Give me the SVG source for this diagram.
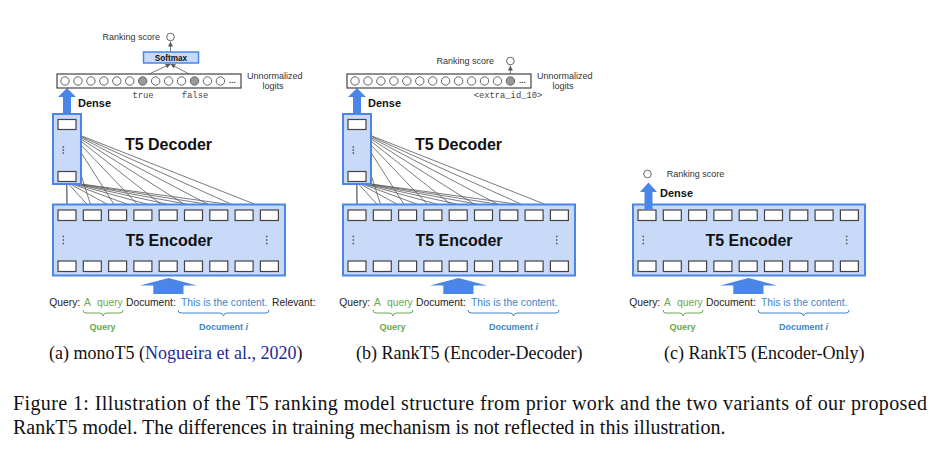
<svg xmlns="http://www.w3.org/2000/svg" xmlns:xlink="http://www.w3.org/1999/xlink" width="950" height="465" viewBox="0 0 950 465">
<style>
.enc{fill:#c9daf8;stroke:#4a86e8;stroke-width:2}
.box{fill:#fff;stroke:#434343;stroke-width:1.2}
.lc{fill:#fff;stroke:#666;stroke-width:1}
.lg{fill:#999;stroke:#666;stroke-width:1}
.ln{stroke:#595959;stroke-width:0.8;fill:none}
.arr{fill:#4a86e8}
.dot{fill:#666}
.sans{font-family:"Liberation Sans",Arial,sans-serif}
.title{font-family:"Liberation Sans",Arial,sans-serif;font-weight:bold;font-size:16px;fill:#111;text-anchor:middle}
.dense{font-family:"Liberation Sans",Arial,sans-serif;font-weight:bold;font-size:11px;fill:#111}
.small{font-family:"Liberation Sans",Arial,sans-serif;font-size:9px;fill:#333}
.mono{font-family:"Liberation Mono","Courier New",monospace;font-size:8.8px;fill:#444}
.inp{font-family:"Liberation Sans",Arial,sans-serif;font-size:10.3px;fill:#222}
.grn{fill:#6aa84f}
.blu{fill:#3d85c6}
.lbl{font-family:"Liberation Sans",Arial,sans-serif;font-size:9px;font-weight:bold;text-anchor:middle}
.brg{fill:none;stroke:#6aa84f;stroke-width:1}
.brb{fill:none;stroke:#3d85c6;stroke-width:1}
.cap{font-family:"Liberation Serif","Times New Roman",serif;fill:#111}
.cite{fill:#1c2a9a}
</style>
<defs>
<marker id="ah" viewBox="0 0 6 6" refX="6" refY="3" markerWidth="5" markerHeight="5" markerUnits="userSpaceOnUse" orient="auto"><path d="M0,0 L6,3 L0,6 z" fill="#595959"/></marker>
<g id="encBody">
<rect class="enc" x="53" y="204.5" width="232" height="71"/>
<rect class="box" x="58" y="210" width="18" height="10.5"/>
<rect class="box" x="83.3" y="210" width="18" height="10.5"/>
<rect class="box" x="108.6" y="210" width="18" height="10.5"/>
<rect class="box" x="133.9" y="210" width="18" height="10.5"/>
<rect class="box" x="159.2" y="210" width="18" height="10.5"/>
<rect class="box" x="184.5" y="210" width="18" height="10.5"/>
<rect class="box" x="209.8" y="210" width="18" height="10.5"/>
<rect class="box" x="235.1" y="210" width="18" height="10.5"/>
<rect class="box" x="260.4" y="210" width="18" height="10.5"/>
<rect class="box" x="58" y="261" width="18" height="10.5"/>
<rect class="box" x="83.3" y="261" width="18" height="10.5"/>
<rect class="box" x="108.6" y="261" width="18" height="10.5"/>
<rect class="box" x="133.9" y="261" width="18" height="10.5"/>
<rect class="box" x="159.2" y="261" width="18" height="10.5"/>
<rect class="box" x="184.5" y="261" width="18" height="10.5"/>
<rect class="box" x="209.8" y="261" width="18" height="10.5"/>
<rect class="box" x="235.1" y="261" width="18" height="10.5"/>
<rect class="box" x="260.4" y="261" width="18" height="10.5"/>
<circle class="dot" cx="63.3" cy="236.5" r="0.9"/><circle class="dot" cx="63.3" cy="240" r="0.9"/><circle class="dot" cx="63.3" cy="243.5" r="0.9"/>
<circle class="dot" cx="266.7" cy="236.5" r="0.9"/><circle class="dot" cx="266.7" cy="240" r="0.9"/><circle class="dot" cx="266.7" cy="243.5" r="0.9"/>
<polygon class="arr" points="168.5,278 140,285.5 153.3,285.5 153.3,294 183.5,294 183.5,285.5 197,285.5"/>
</g>
<g id="decBody">
<rect class="enc" x="53" y="114" width="28" height="70"/>
<rect class="box" x="58" y="119.5" width="18" height="10"/>
<rect class="box" x="58" y="171.5" width="18" height="10"/>
<circle class="dot" cx="63.3" cy="147" r="0.9"/><circle class="dot" cx="63.3" cy="150" r="0.9"/><circle class="dot" cx="63.3" cy="153" r="0.9"/>
<polygon class="arr" points="67,88 58,97 63,97 63,114 71,114 71,97 76,97"/>
</g>
<g id="fan">
<path class="ln" d="M66.7,130 L67,210 M66.7,130 L92.3,210 M66.7,130 L117.6,210 M66.7,130 L142.9,210 M66.7,130 L168.2,210 M66.7,130 L193.5,210 M66.7,130 L218.8,210 M66.7,130 L244.1,210 M66.7,130 L269.4,210 M66.7,182 L67,210 M66.7,182 L92.3,210 M66.7,182 L117.6,210 M66.7,182 L142.9,210 M66.7,182 L168.2,210 M66.7,182 L193.5,210 M66.7,182 L218.8,210 M66.7,182 L244.1,210 M66.7,182 L269.4,210"/>
</g>
<g id="logitBar">
<rect class="box" x="57" y="74" width="184" height="14"/>
<circle class="lc" cx="65" cy="81" r="4.2"/><circle class="lc" cx="77.95" cy="81" r="4.2"/><circle class="lc" cx="90.9" cy="81" r="4.2"/><circle class="lc" cx="103.85" cy="81" r="4.2"/><circle class="lc" cx="116.8" cy="81" r="4.2"/><circle class="lc" cx="129.75" cy="81" r="4.2"/>
<circle class="lc" cx="155.65" cy="81" r="4.2"/><circle class="lc" cx="168.6" cy="81" r="4.2"/><circle class="lc" cx="181.55" cy="81" r="4.2"/>
<circle class="lc" cx="207.45" cy="81" r="4.2"/>
<text class="small" x="229" y="83" style="font-weight:bold;font-size:8px">...</text>
<text class="small" x="247" y="79">Unnormalized</text>
<text class="small" x="273" y="89" text-anchor="middle">logits</text>
</g>
</defs>

<!-- Panel (a) -->
<g id="connectors-a"><use xlink:href="#fan"/>
<path class="ln" d="M142.7,77 L170.5,64" marker-end="url(#ah)"/>
<path class="ln" d="M194.5,77 L170.5,64" marker-end="url(#ah)"/>
<path class="ln" d="M170.5,52 L170.5,41.5" marker-end="url(#ah)"/>
</g>
<g id="a-encoder"><use xlink:href="#encBody"/><text class="title" x="169" y="246">T5 Encoder</text></g>
<g id="a-decoder"><use xlink:href="#decBody"/><text class="title" x="168.5" y="149.5">T5 Decoder</text><text class="dense" x="78" y="107">Dense</text></g>
<g id="a-logits"><use xlink:href="#logitBar"/>
<circle class="lg" cx="142.7" cy="81" r="4.2"/><circle class="lc" cx="220.4" cy="81" r="4.2"/><circle class="lg" cx="194.5" cy="81" r="4.2"/>
<text class="mono" x="143" y="97.5" text-anchor="middle">true</text>
<text class="mono" x="195" y="97.5" text-anchor="middle">false</text>
</g>
<g id="a-softmax"><rect x="143.5" y="52" width="55" height="11" fill="#c9daf8" stroke="#4a86e8" stroke-width="1.5"/>
<text class="sans" x="171" y="60.6" font-size="8.2" font-weight="bold" text-anchor="middle" fill="#111">Softmax</text></g>
<g id="a-score"><circle class="lc" cx="170.5" cy="37" r="3.8"/><text class="small" x="160" y="40.3" text-anchor="end">Ranking score</text></g>
<g id="a-input">
<text class="inp" y="305.5"><tspan x="49.3">Query:</tspan><tspan class="grn" x="84">A</tspan><tspan class="grn" x="97">query</tspan><tspan x="126">Document:</tspan><tspan class="blu" x="181">This is the content.</tspan><tspan x="272">Relevant:</tspan></text>
<path class="brg" d="M83,310 q0,3 3,3 h13.5 q3,0 3.5,3 q0.5,-3 3.5,-3 h13.5 q3,0 3,-3"/>
<path class="brb" d="M178,310 q0,3 3,3 h39 q3,0 3.5,3 q0.5,-3 3.5,-3 h39 q3,0 3,-3"/>
<text class="lbl grn" x="102.5" y="329.5">Query</text>
<text class="lbl blu" x="223.5" y="329.5">Document <tspan font-style="italic">i</tspan></text>
</g>

<!-- Panel (b) -->
<g transform="translate(290,0)">
<g id="connectors-b"><use xlink:href="#fan"/>
<path class="ln" d="M220.4,76.8 L220.4,65.5" marker-end="url(#ah)"/>
</g>
<g id="b-encoder"><use xlink:href="#encBody"/><text class="title" x="169" y="246">T5 Encoder</text></g>
<g id="b-decoder"><use xlink:href="#decBody"/><text class="title" x="168.5" y="149.5">T5 Decoder</text><text class="dense" x="78" y="107">Dense</text></g>
<g id="b-logits"><use xlink:href="#logitBar"/>
<circle class="lc" cx="142.7" cy="81" r="4.2"/><circle class="lc" cx="194.5" cy="81" r="4.2"/><circle class="lg" cx="220.4" cy="81" r="4.2"/>
<text class="mono" x="218" y="98" text-anchor="middle">&lt;extra_id_10&gt;</text>
</g>
<g id="b-score"><circle class="lc" cx="220.4" cy="61" r="3.8"/><text class="small" x="204" y="64" text-anchor="end">Ranking score</text></g>
<g id="b-input">
<text class="inp" y="305.5"><tspan x="49.3">Query:</tspan><tspan class="grn" x="84">A</tspan><tspan class="grn" x="97">query</tspan><tspan x="126">Document:</tspan><tspan class="blu" x="181">This is the content.</tspan></text>
<path class="brg" d="M83,310 q0,3 3,3 h13.5 q3,0 3.5,3 q0.5,-3 3.5,-3 h13.5 q3,0 3,-3"/>
<path class="brb" d="M178,310 q0,3 3,3 h39 q3,0 3.5,3 q0.5,-3 3.5,-3 h39 q3,0 3,-3"/>
<text class="lbl grn" x="102.5" y="329.5">Query</text>
<text class="lbl blu" x="223.5" y="329.5">Document <tspan font-style="italic">i</tspan></text>
</g>
</g>

<!-- Panel (c) -->
<g transform="translate(580,0)">
<g id="c-encoder"><use xlink:href="#encBody"/><text class="title" x="169" y="246">T5 Encoder</text></g>
<g id="c-dense"><polygon class="arr" points="68.5,182.5 60,192 64.5,192 64.5,209.5 72.5,209.5 72.5,192 77,192"/><text class="dense" x="80" y="197">Dense</text></g>
<g id="c-score"><circle class="lc" cx="67.5" cy="174" r="3.8"/><text class="small" x="86.7" y="177">Ranking score</text></g>
<g id="c-input">
<text class="inp" y="305.5"><tspan x="49.3">Query:</tspan><tspan class="grn" x="84">A</tspan><tspan class="grn" x="97">query</tspan><tspan x="126">Document:</tspan><tspan class="blu" x="181">This is the content.</tspan></text>
<path class="brg" d="M83,310 q0,3 3,3 h13.5 q3,0 3.5,3 q0.5,-3 3.5,-3 h13.5 q3,0 3,-3"/>
<path class="brb" d="M178,310 q0,3 3,3 h39 q3,0 3.5,3 q0.5,-3 3.5,-3 h39 q3,0 3,-3"/>
<text class="lbl grn" x="102.5" y="329.5">Query</text>
<text class="lbl blu" x="223.5" y="329.5">Document <tspan font-style="italic">i</tspan></text>
</g>
</g>

<!-- Captions -->
<g id="captions" class="cap">
<text x="49" y="358.5" font-size="18">(a) monoT5 (<tspan class="cite">Nogueira et al., 2020</tspan>)</text>
<text x="356" y="358.5" font-size="18">(b) RankT5 (Encoder-Decoder)</text>
<text x="664" y="358.5" font-size="18">(c) RankT5 (Encoder-Only)</text>
<text x="13" y="410" font-size="20" textLength="914" lengthAdjust="spacing">Figure 1: Illustration of the T5 ranking model structure from prior work and the two variants of our proposed</text>
<text x="13" y="434" font-size="20">RankT5 model. The differences in training mechanism is not reflected in this illustration.</text>
</g>
</svg>
